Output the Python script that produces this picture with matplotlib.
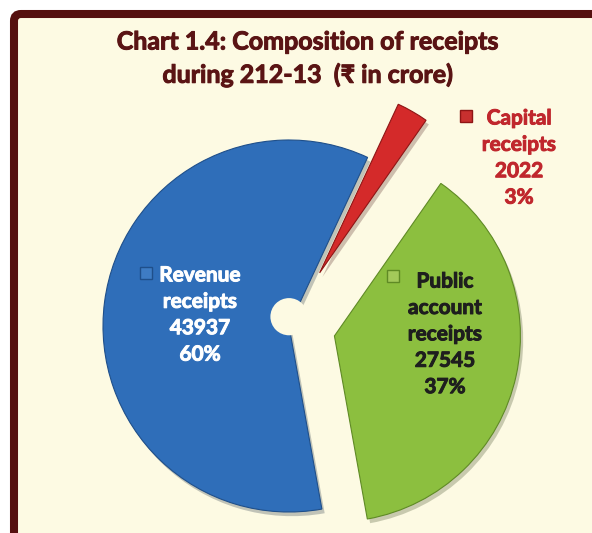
import numpy as np
import matplotlib.pyplot as plt
from matplotlib.patches import FancyBboxPatch, Circle
from matplotlib.transforms import IdentityTransform
import matplotlib.patheffects as pe

## Chart data
labels = ['Revenue\nreceipts', 'Public\naccount\nreceipts', 'Capital\nreceipts']
values = [43937, 27545, 2022]
shares = [60, 37, 3]

colors = ['#2F6EB9', '#8CBF3F', '#D42A2A']
key_colors = ['#3E7CC4', '#A3C95A', '#C8302F']
edge_colors = ['#1F4F8A', '#5F8A25', '#8E1515']
text_colors = ['white', '#1E1E1E', '#C0272D']
explode = [0, 0.25, 0.33]

FONT = ['Lato', 'DejaVu Sans']
CREAM = '#FDFAE3'
MAROON = '#55100F'
TITLE_C = '#5A1414'

W, H = 592, 533
fig = plt.figure(figsize=(W / 100, H / 100), dpi=100)
fig.patch.set_facecolor('white')

## cream panel with the maroon frame (right and bottom run off the picture)
frame = FancyBboxPatch((14, -60), 700, 533 - 14 + 60,
                       boxstyle='round,pad=0,rounding_size=7',
                       transform=IdentityTransform(),
                       facecolor=CREAM, edgecolor=MAROON, linewidth=5.8,
                       zorder=-10)
fig.patches.append(frame)

## title (a thin stroke makes Lato Bold look as heavy as the original)
heavy = lambda c: [pe.withStroke(linewidth=0.7, foreground=c)]
fig.text(308 / W, 1 - 42 / H, 'Chart 1.4: Composition of receipts',
         ha='center', va='center', fontsize=18, fontweight='bold',
         color=TITLE_C, family=FONT, path_effects=heavy(TITLE_C))
fig.text(308 / W, 1 - 75 / H, 'during 212-13  (\u20b9 in crore)',
         ha='center', va='center', fontsize=18, fontweight='bold',
         color=TITLE_C, family=FONT, path_effects=heavy(TITLE_C))

## pie axes: centre at (289, 326) px, radius 186 px
R = 186
half = 250
ax = fig.add_axes([(289 - half) / W, (H - 326 - half) / H, 2 * half / W, 2 * half / H])
wedges, _ = ax.pie(values, colors=colors, explode=explode, startangle=65,
                   counterclock=True, radius=1,
                   wedgeprops=dict(linewidth=0.8))
for w, ec in zip(wedges, edge_colors):
    w.set_edgecolor(ec)
    w.set_path_effects([pe.SimplePatchShadow(offset=(2, -3), alpha=0.25), pe.Normal()])

ax.add_patch(Circle((0, 0.05), 0.1, facecolor=CREAM, edgecolor='none', zorder=5))

ax.set_xlim(-half / R, half / R)
ax.set_ylim(-half / R, half / R)
ax.set_aspect('equal')
ax.axis('off')

## data labels with small legend keys
label_pos = [(-0.478, 0.059), (0.839, -0.045), (1.237, 0.903)]
key_pos = [(-0.769, 0.285), (0.559, 0.269), (0.952, 1.129)]
for lab, val, sh, (x, y), (kx, ky), tc, kc, ec in zip(labels, values, shares, label_pos,
                                                      key_pos, text_colors, key_colors, edge_colors):
    ax.text(x, y, f'{lab}\n{val}\n{sh}%', ha='center', va='center',
            fontsize=15, fontweight='bold', color=tc, family=FONT,
            linespacing=1.4, zorder=6, path_effects=heavy(tc))
    ax.plot([kx], [ky], linestyle='none', marker='s', markersize=8,
            markerfacecolor=kc, markeredgecolor=ec,
            markeredgewidth=1.0, zorder=6, clip_on=False)

fig.savefig('out.png', dpi=100)
